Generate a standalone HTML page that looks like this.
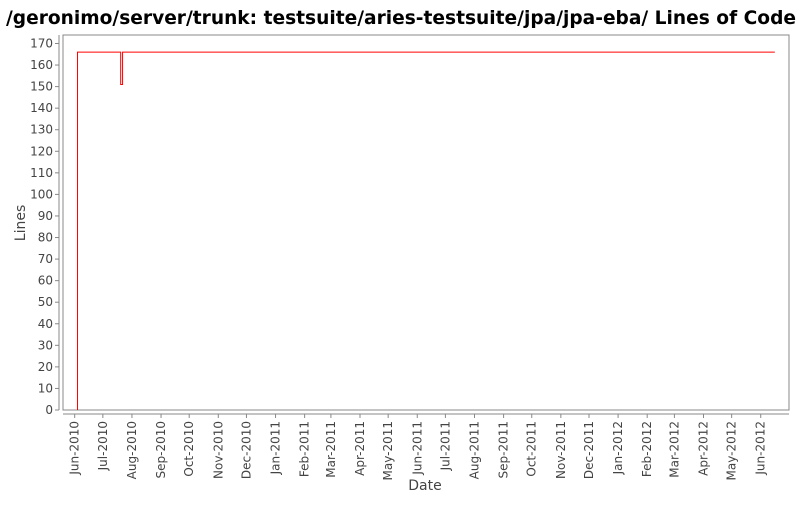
<!DOCTYPE html>
<html><head><meta charset="utf-8"><style>
body{margin:0;background:#fff;}
text{font-family:"DejaVu Sans","Liberation Sans",sans-serif;}
</style></head><body>
<svg id="c" width="800" height="500">
<text x="6" y="24" font-size="19" font-weight="bold" fill="#000" textLength="790" lengthAdjust="spacingAndGlyphs">/geronimo/server/trunk: testsuite/aries-testsuite/jpa/jpa-eba/ Lines of Code</text>
<rect x="63" y="35" width="726" height="375" fill="#fff" stroke="#888"/>
<line x1="59" y1="35" x2="59" y2="410" stroke="#888"/>
<line x1="63" y1="414" x2="789" y2="414" stroke="#888"/>
<text transform="translate(25,223) rotate(-90)" text-anchor="middle" font-size="14" fill="#444">Lines</text>
<text x="425" y="490" text-anchor="middle" font-size="14" fill="#444">Date</text>
<g id="yt"></g><g id="xt"></g><g id="series"></g>
</svg>
<script>
const yTicks=[0,10,20,30,40,50,60,70,80,90,100,110,120,130,140,150,160,170];
const xTickLabels=["Jun-2010","Jul-2010","Aug-2010","Sep-2010","Oct-2010","Nov-2010","Dec-2010","Jan-2011","Feb-2011","Mar-2011","Apr-2011","May-2011","Jun-2011","Jul-2011","Aug-2011","Sep-2011","Oct-2011","Nov-2011","Dec-2011","Jan-2012","Feb-2012","Mar-2012","Apr-2012","May-2012","Jun-2012"];
const dates=["2010-06-04","2010-07-20","2010-07-22","2012-06-16"];
const values=[166,151,166,166];
const NS="http://www.w3.org/2000/svg";
const t0=Date.UTC(2010,5,1);
function X(d){return 74.7+(d-t0)/86400000*0.9385;}
function Y(v){return 410-v*2.156;}
const yt=document.getElementById('yt');
yTicks.forEach(v=>{
 const l=document.createElementNS(NS,'line');
 l.setAttribute('x1',55);l.setAttribute('x2',59);l.setAttribute('y1',Y(v));l.setAttribute('y2',Y(v));l.setAttribute('stroke','#888');
 
 
 yt.appendChild(l);
 const t=document.createElementNS(NS,'text');
 t.setAttribute('x',53);t.setAttribute('y',Y(v)+4);t.setAttribute('text-anchor','end');t.setAttribute('font-size','12');t.setAttribute('fill','#444');
 t.textContent=v;
 
 
 yt.appendChild(t);
});
const xt=document.getElementById('xt');
xTickLabels.forEach((s,i)=>{
 const mon=["Jan","Feb","Mar","Apr","May","Jun","Jul","Aug","Sep","Oct","Nov","Dec"].indexOf(s.slice(0,3));
 const d=Date.UTC(+s.slice(4),mon,1);
 const x=X(d);
 const l=document.createElementNS(NS,'line');
 l.setAttribute('x1',x);l.setAttribute('x2',x);l.setAttribute('y1',414);l.setAttribute('y2',418);l.setAttribute('stroke','#888');
 
 
 xt.appendChild(l);
 const t=document.createElementNS(NS,'text');
 t.setAttribute('transform','translate('+(x+4)+',421) rotate(-90)');t.setAttribute('text-anchor','end');t.setAttribute('font-size','12');t.setAttribute('fill','#444');
 t.textContent=s;
 
 
 xt.appendChild(t);
});
let p='M'+X(Date.parse(dates[0]))+','+Y(0);
let prev=0;
dates.forEach((ds,i)=>{const x=X(Date.parse(ds));p+=' L'+x+','+Y(prev)+' L'+x+','+Y(values[i]);prev=values[i];});
const path=document.createElementNS(NS,'path');
path.setAttribute('d',p);path.setAttribute('fill','none');path.setAttribute('stroke','#f00');path.setAttribute('stroke-width','1');


document.getElementById('series').appendChild(path);
</script>
</body></html>
